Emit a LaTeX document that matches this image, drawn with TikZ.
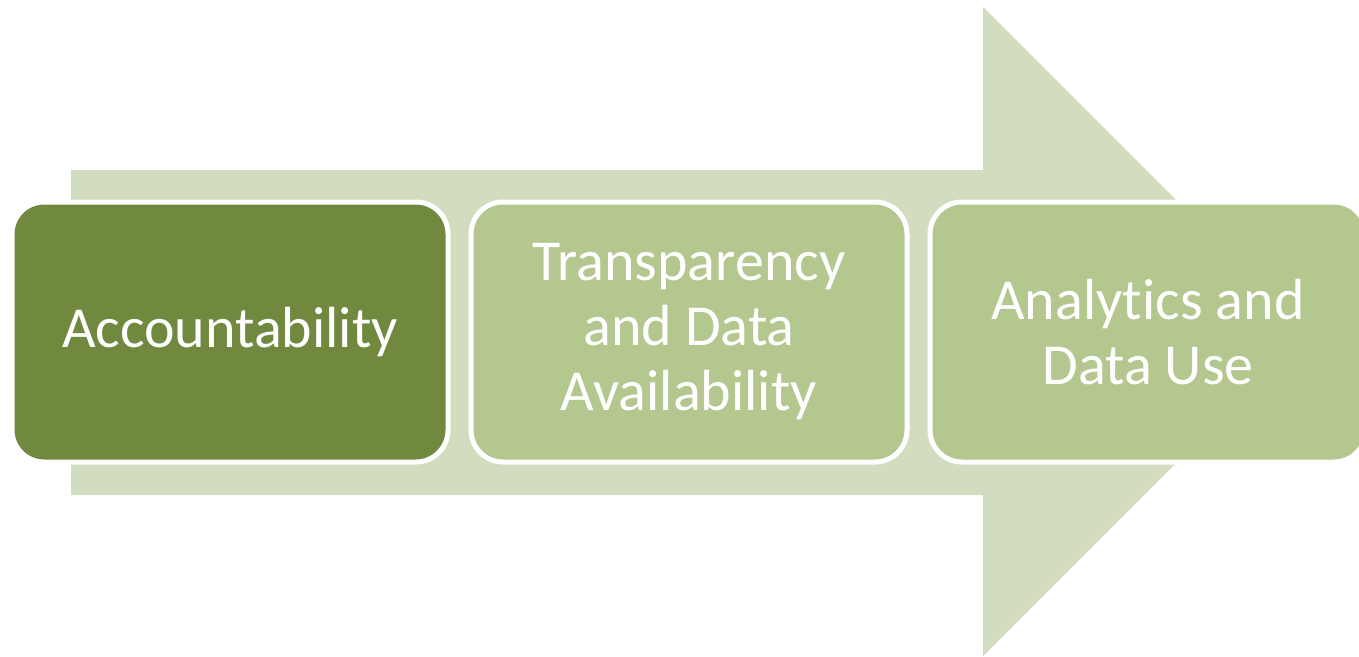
\documentclass[tikz,border=0pt]{standalone}
\usepackage{fontspec}
\usepackage{tikz}
\newfontfamily\boxfont[Ligatures=NoCommon]{Carlito}
\definecolor{arrowgreen}{HTML}{D1DDBE}
\definecolor{darkolive}{HTML}{71893F}
\definecolor{paleolive}{HTML}{B3C78F}

\begin{document}
\begin{tikzpicture}[x=1pt,y=-1pt,
    stagebox/.style={draw=white,line width=5pt,rounded corners=32pt,
      minimum width=436pt,minimum height=260pt,inner sep=0pt,
      text=white,align=center,font=\boxfont\fontsize{58}{65}\selectfont}]
      \useasboundingbox (0,0) rectangle (1359,656);
      % big arrow behind the boxes
      \fill[arrowgreen] (71,170) -- (983,170) -- (983,7) -- (1307.5,331.5)
        -- (983,656) -- (983,495) -- (71,495) -- cycle;
      \node[stagebox,fill=darkolive] (account) at (230,332) {Accountability};
      \node[stagebox,fill=paleolive] (transp) at (689,332) {Transparency\\and Data\\Availability};
      \node[stagebox,fill=paleolive] (analytics) at (1148,332) {Analytics and\\Data Use};
\end{tikzpicture}
\end{document}
